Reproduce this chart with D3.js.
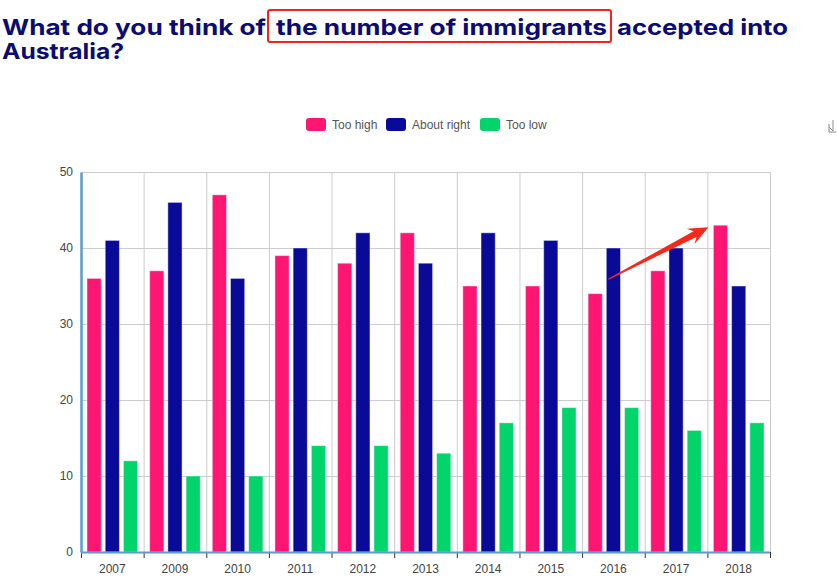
<!DOCTYPE html>
<html>
<head>
<meta charset="utf-8">
<script src="https://cdn.jsdelivr.net/npm/d3@7"></script>
<style>
  body { margin: 0; background: #fff; }
  svg { display: block; }
</style>
</head>
<body>
<div id="wrapper"></div>
<script>
// data
const years = ["2007", "2009", "2010", "2011", "2012", "2013", "2014", "2015", "2016", "2017", "2018"];
const seriesNames = ["Too high", "About right", "Too low"];
const tooHigh = [36, 37, 47, 39, 38, 42, 35, 35, 34, 37, 43];
const aboutRight = [41, 46, 36, 40, 42, 38, 42, 41, 40, 40, 35];
const tooLow = [12, 10, 10, 14, 14, 13, 17, 19, 19, 16, 17];
const yTicks = [0, 10, 20, 30, 40, 50];
const colors = ["#ff1572", "#0a0a99", "#00d46b"];

const dimensions = {
  width: 837,
  height: 585,
  margin: {top: 172, left: 81, bottom: 33, right: 67}
};
dimensions.boundedWidth = dimensions.width - dimensions.margin.left - dimensions.margin.right;
dimensions.boundedHeight = dimensions.height - dimensions.margin.top - dimensions.margin.bottom;

const wrapper = d3.select("#wrapper").append("svg")
  .attr("width", dimensions.width)
  .attr("height", dimensions.height);

// title, with the highlighted phrase in a red box
const titleColor = "#0b0b70";
const titleFont = "Inter, 'Open Sans', sans-serif";
const titleParts = [
  {text: "What do you think of", x: 2, w: 264, y: 35},
  {text: "the number of immigrants", x: 276, w: 331, y: 35},
  {text: "accepted into", x: 617, w: 171, y: 35},
  {text: "Australia?", x: 2, w: 122, y: 59}
];
wrapper.selectAll("text.title")
  .data(titleParts)
  .enter()
  .append("text")
  .attr("class", "title")
  .attr("x", d => d.x)
  .attr("y", d => d.y)
  .attr("textLength", d => d.w)
  .attr("lengthAdjust", "spacingAndGlyphs")
  .style("font-family", titleFont)
  .style("font-weight", 700)
  .style("font-size", "22px")
  .style("fill", titleColor)
  .text(d => d.text);

wrapper.append("rect")
  .attr("x", 268).attr("y", 10)
  .attr("width", 343).attr("height", 32)
  .attr("rx", 2)
  .attr("fill", "none")
  .attr("stroke", "#f2231a")
  .attr("stroke-width", 2);

// legend
const legend = wrapper.append("g").attr("transform", "translate(306, 118)");
const legendOffsets = [0, 80, 174];
seriesNames.forEach((name, i) => {
  const g = legend.append("g").attr("transform", `translate(${legendOffsets[i]}, 0)`);
  g.append("rect")
    .attr("width", 20).attr("height", 13).attr("rx", 3)
    .attr("fill", colors[i]);
  g.append("text")
    .attr("x", 26).attr("y", 10.5)
    .style("font-family", "'Liberation Sans', Arial, sans-serif")
    .style("font-size", "12px")
    .style("fill", "#555")
    .text(name);
});

// little download glyph at the right edge
wrapper.append("path")
  .attr("d", "M833,120 V131 M829,127 L833,131 M829,124 V132 H836")
  .attr("fill", "none")
  .attr("stroke", "#888")
  .attr("stroke-width", 1);

const container = wrapper.append("g")
  .attr("transform", `translate(${dimensions.margin.left}, ${dimensions.margin.top})`);

const xScale = d3.scaleBand()
  .domain(years)
  .range([0, dimensions.boundedWidth])
  .padding(0);
const subScale = d3.scaleBand()
  .domain(seriesNames)
  .range([0, xScale.bandwidth()])
  .paddingInner(0.22)
  .paddingOuter(0.33);
const yScale = d3.scaleLinear()
  .domain([0, 50])
  .range([dimensions.boundedHeight, 0]);

// grid
container.append("g")
  .selectAll("line")
  .data(yTicks)
  .enter().append("line")
  .attr("x1", 0).attr("x2", dimensions.boundedWidth)
  .attr("y1", d => yScale(d) + 0.5).attr("y2", d => yScale(d) + 0.5)
  .attr("stroke", "#cccccc");
container.append("g")
  .selectAll("line")
  .data(years.slice(1).concat(["end"]))
  .enter().append("line")
  .attr("x1", d => (d === "end" ? dimensions.boundedWidth : xScale(d)) + 0.5)
  .attr("x2", d => (d === "end" ? dimensions.boundedWidth : xScale(d)) + 0.5)
  .attr("y1", 0).attr("y2", dimensions.boundedHeight)
  .attr("stroke", "#cccccc");

// bars
const series = [tooHigh, aboutRight, tooLow];
const barData = [];
years.forEach((year, i) => {
  seriesNames.forEach((name, j) => {
    barData.push({year: year, name: name, value: series[j][i], color: colors[j]});
  });
});
container.append("g")
  .selectAll("rect")
  .data(barData)
  .enter().append("rect")
  .attr("x", d => xScale(d.year) + subScale(d.name))
  .attr("y", d => yScale(d.value))
  .attr("width", subScale.bandwidth())
  .attr("height", d => yScale(0) - yScale(d.value))
  .attr("fill", d => d.color)
  .attr("stroke", "rgba(255,255,255,0.45)")
  .attr("stroke-width", 1);

// axes
const xAxisGen = d3.axisBottom(xScale).tickSize(0).tickPadding(12);
const axisX = container.append("g")
  .attr("transform", `translate(0, ${dimensions.boundedHeight})`)
  .call(xAxisGen);
axisX.select(".domain").remove();
axisX.selectAll("text")
  .style("font-family", "'Liberation Sans', Arial, sans-serif")
  .style("font-size", "12px")
  .style("fill", "#444");
// tick marks at group boundaries
axisX.append("g")
  .selectAll("line")
  .data(years.concat(["end"]))
  .enter().append("line")
  .attr("x1", d => (d === "end" ? dimensions.boundedWidth : xScale(d)) + 0.5)
  .attr("x2", d => (d === "end" ? dimensions.boundedWidth : xScale(d)) + 0.5)
  .attr("y1", 0).attr("y2", 6)
  .attr("stroke", "#333");
axisX.append("line")
  .attr("x1", 0).attr("x2", dimensions.boundedWidth)
  .attr("y1", 0.5).attr("y2", 0.5)
  .attr("stroke", "#5a9bd0").attr("stroke-width", 2);

const yAxisGen = d3.axisLeft(yScale).tickValues(yTicks).tickSize(0).tickPadding(8);
const axisY = container.append("g").call(yAxisGen);
axisY.select(".domain")
  .attr("stroke", "#5a9bd0")
  .attr("stroke-width", 2.5);
axisY.selectAll("text")
  .style("font-family", "'Liberation Sans', Arial, sans-serif")
  .style("font-size", "12px")
  .style("fill", "#444");

// red arrow pointing at the 2018 "Too high" bar
const tip = [xScale("2018") + 1, yScale(43) + 2];
const tail = [xScale("2016") + subScale("About right") + 2, yScale(35.9)];
const dx = tip[0] - tail[0], dy = tip[1] - tail[1];
const len = Math.hypot(dx, dy);
const ux = dx / len, uy = dy / len, nx = -uy, ny = ux;
const headLen = 20, headHalf = 8.5, shaftHalf = 3.2;
const hb = [tip[0] - ux * headLen, tip[1] - uy * headLen];
const notch = [tip[0] - ux * (headLen - 5), tip[1] - uy * (headLen - 5)];
const arrowPts = [
  [tail[0] + nx * 0.6, tail[1] + ny * 0.6],
  [notch[0] + nx * shaftHalf, notch[1] + ny * shaftHalf],
  [hb[0] + nx * headHalf, hb[1] + ny * headHalf],
  tip,
  [hb[0] - nx * headHalf, hb[1] - ny * headHalf],
  [notch[0] - nx * shaftHalf, notch[1] - ny * shaftHalf],
  [tail[0] - nx * 0.6, tail[1] - ny * 0.6]
];
container.append("path")
  .attr("d", d3.line()(arrowPts) + "Z")
  .attr("fill", "#f5291b");
</script>
</body>
</html>
